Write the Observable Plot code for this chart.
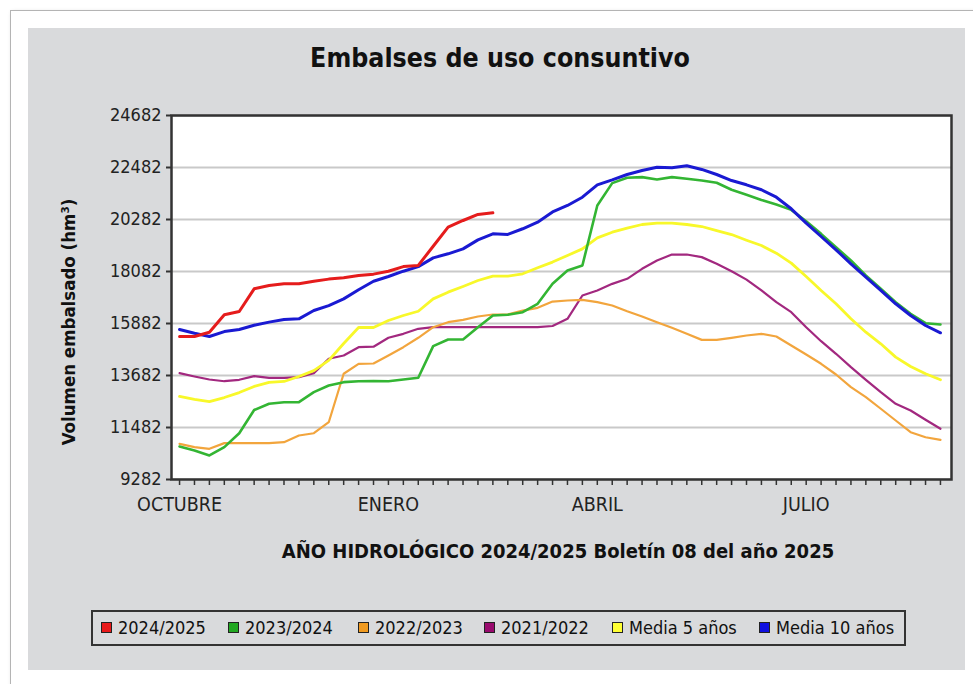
<!DOCTYPE html>
<html>
<head>
<meta charset="utf-8">
<script src="https://cdn.jsdelivr.net/npm/d3@7"></script>
<script src="https://cdn.jsdelivr.net/npm/@observablehq/plot@0.6"></script>
<style>
  html, body { margin: 0; padding: 0; background: #ffffff; }
  body { width: 973px; height: 684px; position: relative; overflow: hidden;
         font-family: "DejaVu Sans Condensed", "Liberation Sans Narrow", "DejaVu Sans", sans-serif; font-stretch: condensed; }
  #outer { position: absolute; left: 10px; top: 10px; width: 975px; height: 690px;
           border: 1px solid #b4b4b4; box-shadow: 2px 2px 4px rgba(0,0,0,0.25); background: #fff; }
  #panel { position: absolute; left: 28px; top: 28px; width: 937px; height: 642px; background: #d9dadc; }
  #title { position: absolute; left: 28px; width: 944px; top: 42px; text-align: center;
           font-weight: bold; font-size: 26.5px; color: #111; }
  #chart { position: absolute; left: 28px; top: 90px; }
  #ytitle { position: absolute; left: 68px; top: 322px; transform: translate(-50%, -50%) rotate(-90deg);
            white-space: nowrap; font-weight: bold; font-size: 18.5px; color: #111; }
  #xtitle { position: absolute; left: 28px; width: 1060px; top: 539px; text-align: center;
            font-weight: bold; font-size: 20px; color: #111; }
  #legend { position: absolute; left: 91px; top: 610px; width: 811px; height: 32px;
            border: 2px solid #333; box-sizing: content-box; }
  .item { position: absolute; top: 5px; display: flex; align-items: center; font-size: 18px; color: #111; white-space: nowrap; }
  .sw { width: 9px; height: 9px; border: 1.5px solid #222; margin-right: 6px; }
</style>
</head>
<body>
<div id="outer"></div>
<div id="panel"></div>
<div id="title">Embalses de uso consuntivo</div>
<div id="chart"></div>
<div id="ytitle">Volumen embalsado (hm³)</div>
<div id="xtitle">AÑO HIDROLÓGICO 2024/2025 Boletín 08 del año 2025</div>
<div id="legend"></div>
<script>
// Weeks of the hydrological year (October = week 0)
const weeks = [0,1,2,3,4,5,6,7,8,9,10,11,12,13,14,15,16,17,18,19,20,21,22,23,24,25,
  26,27,28,29,30,31,32,33,34,35,36,37,38,39,40,41,42,43,44,45,46,47,48,49,50,51];
const monthLabels = ["OCTUBRE", "ENERO", "ABRIL", "JULIO"];
const monthWeeks = [0, 14, 28, 42];
const yTicks = [9282, 11482, 13682, 15882, 18082, 20282, 22482, 24682];

const seriesNames = ["2024/2025", "2023/2024", "2022/2023", "2021/2022", "Media 5 años", "Media 10 años"];
const seriesColors = ["#e51c1c", "#33b533", "#f2a53d", "#a2287f", "#f8f82a", "#1a1ad2"];
const legendColors = ["#e8191a", "#22a822", "#f09a20", "#990a6e", "#ffff33", "#1010e0"];

const v2024 = [15330,15330,15510,16250,16390,17350,17490,17560,17560,17670,17760,17815,17910,17970,
  18095,18290,18340,19150,19960,20240,20495,20565];
const v2023 = [10680,10510,10300,10650,11240,12220,12485,12553,12553,12976,13260,13400,13440,13450,
  13440,13513,13585,14925,15205,15205,15725,16220,16250,16360,16716,17560,18125,18336,20875,21820,
  22046,22075,21975,22075,22005,21933,21835,21540,21330,21110,20915,20690,20210,19675,19110,18548,
  17913,17350,16785,16290,15895,15840];
const v2022 = [10790,10650,10580,10820,10820,10820,10820,10860,11144,11240,11706,13755,14177,14190,
  14530,14880,15277,15725,15937,16037,16178,16263,16263,16430,16545,16810,16855,16885,16785,16645,
  16403,16178,15937,15700,15445,15190,15190,15277,15375,15445,15332,14952,14570,14177,13725,13190,
  12765,12275,11778,11283,11070,10960];
const v2021 = [13780,13640,13513,13440,13500,13653,13585,13585,13610,13780,14390,14530,14880,14900,
  15277,15445,15657,15725,15725,15725,15725,15725,15725,15725,15725,15776,16080,17067,17280,17560,
  17773,18196,18548,18800,18800,18690,18408,18095,17740,17280,16785,16360,15725,15133,14600,14035,
  13500,12976,12485,12200,11808,11427];
const media5 = [12794,12670,12580,12750,12960,13220,13390,13430,13640,13890,14320,15036,15713,15713,
  16010,16221,16400,16925,17207,17448,17700,17885,17885,17985,18240,18480,18760,19040,19505,19745,
  19915,20070,20130,20130,20070,19985,19815,19645,19405,19180,18857,18435,17870,17280,16716,16080,
  15515,15023,14460,14063,13755,13500];
const media10 = [15630,15470,15330,15540,15630,15810,15940,16050,16080,16430,16640,16925,17310,17670,
  17870,18095,18290,18660,18830,19040,19420,19675,19650,19890,20170,20600,20875,21225,21750,21960,
  22186,22355,22496,22470,22555,22400,22186,21930,21750,21540,21225,20735,20130,19563,19000,18408,
  17842,17280,16716,16221,15797,15489];

const seriesValues = [v2024, v2023, v2022, v2021, media5, media10];
const strokeWidths = [3, 2.6, 2.2, 2.2, 2.8, 3];
const drawOrder = [3, 2, 4, 1, 5, 0];

const tables = seriesValues.map((vals, s) => vals.map((v, i) => ({week: weeks[i], value: v, serie: seriesNames[s]})));

const labelFor = d => { const k = monthWeeks.indexOf(d); return k >= 0 ? monthLabels[k] : ""; };
const fam = '"DejaVu Sans Condensed", "Liberation Sans Narrow", "DejaVu Sans", sans-serif';

const chart = Plot.plot({
  width: 935,
  height: 440,
  marginLeft: 143,
  marginRight: 12,
  marginTop: 25,
  marginBottom: 51,
  style: {background: "transparent", fontFamily: fam, fontSize: "18px", color: "#222", fontStretch: "condensed"},
  x: {domain: [-0.54, 51.74]},
  y: {domain: [9282, 24682]},
  marks: [
    Plot.frame({fill: "white", stroke: null}),
    Plot.gridY(yTicks, {stroke: "#c9c9c9", strokeOpacity: 1, strokeWidth: 2}),
    Plot.axisY(yTicks, {tickSize: 5, tickPadding: 5, tickFormat: d => String(d), label: null, stroke: "#333", strokeWidth: 2, fontSize: 18}),
    Plot.axisX(weeks, {tickSize: 6, tickPadding: 12, tickFormat: labelFor, label: null, stroke: "#333", strokeWidth: 1.5, fontSize: 19.5}),
    ...drawOrder.map(s => Plot.line(tables[s], {x: "week", y: "value", stroke: seriesColors[s], strokeWidth: strokeWidths[s], strokeLinejoin: "round"})),
    Plot.frame({stroke: "#333", strokeWidth: 2.5})
  ]
});
document.getElementById("chart").appendChild(chart);

// Legend
const legendX = [8, 135, 265, 391, 519, 666];
const legend = document.getElementById("legend");
seriesNames.forEach((name, i) => {
  const item = document.createElement("div");
  item.className = "item";
  item.style.left = legendX[i] + "px";
  const sw = document.createElement("div");
  sw.className = "sw";
  sw.style.background = legendColors[i];
  const t = document.createElement("span");
  t.textContent = name;
  item.appendChild(sw);
  item.appendChild(t);
  legend.appendChild(item);
});
</script>
</body>
</html>
